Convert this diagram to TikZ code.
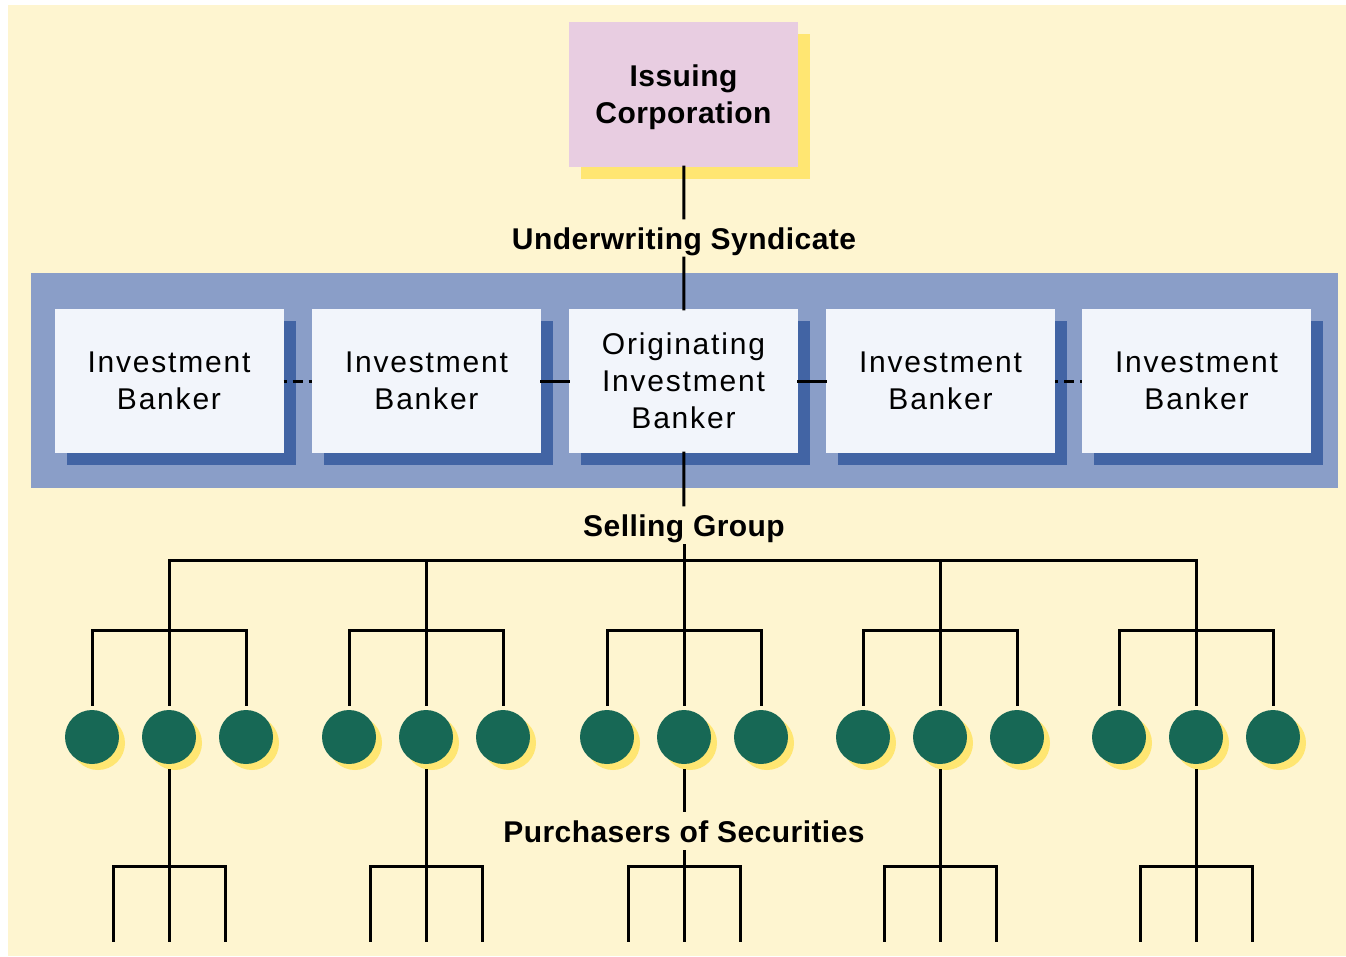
\documentclass[tikz,border=0pt]{standalone}
\usepackage{fontspec}
\setmainfont{Liberation Sans}
\newfontfamily\boxfont[LetterSpace=6]{Liberation Sans}
\newfontfamily\headfont[LetterSpace=1.5]{Liberation Sans}
\usepackage{tikz}
\usetikzlibrary{shadows}
\usetikzlibrary{positioning}

\definecolor{cream}{HTML}{FEF5D0}
\definecolor{bandblue}{HTML}{8A9EC8}
\definecolor{boxwhite}{HTML}{F2F5FB}
\definecolor{darkblue}{HTML}{4264A4}
\definecolor{pink}{HTML}{E8CDE1}
\definecolor{sunyellow}{HTML}{FFE672}
\definecolor{buyergreen}{HTML}{176855}

\tikzset{
	banker/.style={rectangle,fill=boxwhite,minimum width=229pt,minimum height=144pt,inner sep=0pt,
		align=center,font={\boxfont\fontsize{30}{37}\selectfont},
		general shadow={fill=darkblue,shadow xshift=12pt,shadow yshift=-12pt}},
	issuer/.style={rectangle,fill=pink,minimum width=229pt,minimum height=145pt,inner sep=0pt,
		align=center,text depth=0pt,font={\headfont\bfseries\fontsize{30}{37}\selectfont},
		general shadow={fill=sunyellow,shadow xshift=12pt,shadow yshift=-12pt}},
	buyer/.style={circle,fill=buyergreen,minimum size=54pt,inner sep=0pt,
		general shadow={fill=sunyellow,shadow xshift=6pt,shadow yshift=-6pt}},
	caption/.style={inner sep=6pt,text height=25pt,text depth=3pt,
		font={\headfont\bfseries\fontsize{30}{36}\selectfont}},
	link/.style={line width=3pt,line cap=rect},
	dotlink/.style={line width=3pt,dash pattern=on 3pt off 6pt on 10pt off 6pt on 3pt}
}

\begin{document}
\begin{tikzpicture}[x=1pt,y=1pt]
	\useasboundingbox (0,0) rectangle (1346,-956);
	\fill[cream] (8,-5) rectangle (1346,-956);
	\fill[bandblue] (31,-273) rectangle (1338,-488);

	\node[issuer] (corp) at (683.5,-94.5) {Issuing\\Corporation};
	\node[caption] (usl) at (684,-238) {Underwriting Syndicate};

	\node[banker] (ib1) at (169,-381) {Investment\\Banker};
	\node[banker] (ib2) at (426.5,-381) {Investment\\Banker};
	\node[banker] (orig) at (683.5,-381) {Originating\\Investment\\Banker};
	\node[banker] (ib4) at (940.5,-381) {Investment\\Banker};
	\node[banker] (ib5) at (1196.5,-381) {Investment\\Banker};

	\node[caption] (sgl) at (684,-525) {Selling Group};
	\node[caption] (pcl) at (684,-831) {Purchasers of Securities};

	\draw[link] (corp) -- (usl);
	\draw[link] (usl) -- (orig);
	\draw[link] (ib2) -- (orig);
	\draw[link] (orig) -- (ib4);
	\draw[dotlink] (ib1) -- (ib2);
	\draw[dotlink] (ib4) -- (ib5);
	\draw[link] (orig) -- (sgl);

	% selling group and purchasers
	\foreach \g/\x in {1/169,2/426,3/684,4/940,5/1196}{
		\node[buyer] (b\g l) at (\x-77,-737) {};
		\node[buyer] (b\g m) at (\x,-737) {};
		\node[buyer] (b\g r) at (\x+77,-737) {};
		\coordinate (s\g) at (\x,-560);
		\coordinate (t\g) at (\x,-866);
		\draw[link] (s\g) -- ([yshift=5pt]b\g m.north);
		\draw[link] ([yshift=5pt]b\g l.north) |- (\x,-630) -| ([yshift=5pt]b\g r.north);
		\draw[link] (\x-56,-940) |- (t\g) -| (\x+56,-940);
		\draw[link] (t\g) -- (\x,-940);
	}
	\draw[link] (s1) -- (s5);
	\draw[link] (sgl) -- (s3);

	\foreach \g in {1,2,4,5}
	\draw[link] ([yshift=-6pt]b\g m.south) -- (t\g);
	\draw[link] ([yshift=-6pt]b3m.south) -- (pcl);
	\draw[link] (pcl) -- (t3);
\end{tikzpicture}
\end{document}
